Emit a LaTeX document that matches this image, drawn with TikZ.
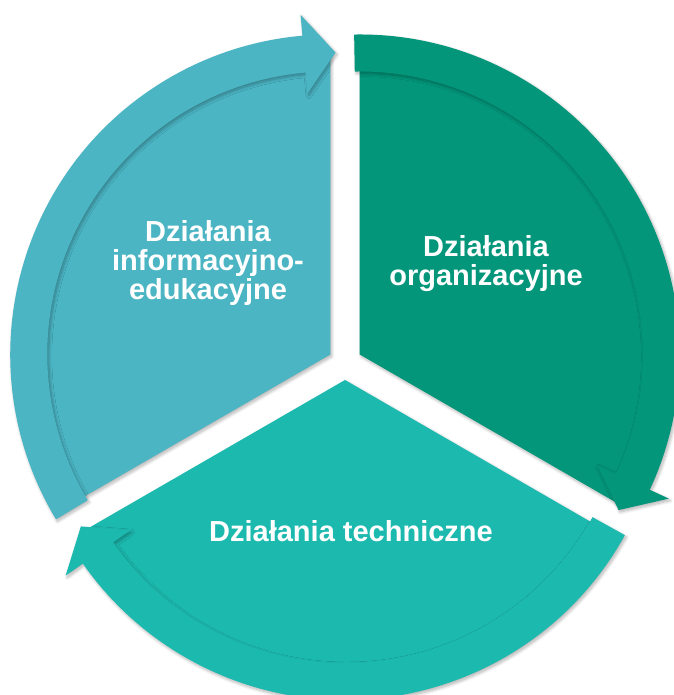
\documentclass[tikz,border=0pt]{standalone}
\usepackage{fontspec}
\setmainfont{Liberation Sans}
\usetikzlibrary{calc,shadows.blur}
\definecolor{cblue}{HTML}{4BB5C4}
\definecolor{cgreen}{HTML}{03967A}
\definecolor{cteal}{HTML}{1CB9AF}
\tikzset{
  secshadow/.style={blur shadow={shadow xshift=1.5pt, shadow yshift=-2pt, shadow blur radius=3pt, shadow blur steps=8, shadow opacity=30}},
  segtext/.style={text=white, font=\bfseries\fontsize{29}{29}\selectfont, align=center, inner sep=0pt},
}
% #1 centre, #2 start angle, #3 end angle (arrow), #4 colour
\newcommand{\drawseg}[4]{%
  \pgfmathsetmacro\sA{#2+1}%
  \pgfmathsetmacro\bA{#3+5}%
  \pgfmathsetmacro\tA{#3-1}%
  \fill[#4, secshadow] (#1) -- ($(#1)+(#2:302pt)$) arc[start angle=#2, end angle=#3, radius=302pt] -- cycle;
  \fill[#4, secshadow] ($(#1)+(\sA:320pt)$) arc[start angle=\sA, end angle=\bA, radius=320pt]
     -- ($(#1)+(\bA:341pt)$) -- ($(#1)+(\tA:302pt)$) -- ($(#1)+(\bA:262pt)$)
     -- ($(#1)+(\bA:283pt)$) arc[start angle=\bA, end angle=\sA, radius=283pt] -- cycle;
}
\begin{document}
\begin{tikzpicture}
\useasboundingbox (0,0) rectangle (673pt,695pt);
\coordinate (C) at (345pt,332pt);
\coordinate (OL) at ($(C)+(150:17pt)$);
\coordinate (OR) at ($(C)+(30:17pt)$);
\coordinate (OB) at ($(C)+(270:17pt)$);
\drawseg{OL}{210}{90}{cblue}
\drawseg{OR}{90}{-30}{cgreen}
\drawseg{OB}{330}{210}{cteal}
\node[segtext] (tL) at (208pt,432pt) {Działania\\informacyjno-\\edukacyjne};
\node[segtext] (tR) at (486pt,431pt) {Działania\\organizacyjne};
\node[segtext] (tB) at (351pt,164pt) {Działania techniczne};
\end{tikzpicture}
\end{document}
